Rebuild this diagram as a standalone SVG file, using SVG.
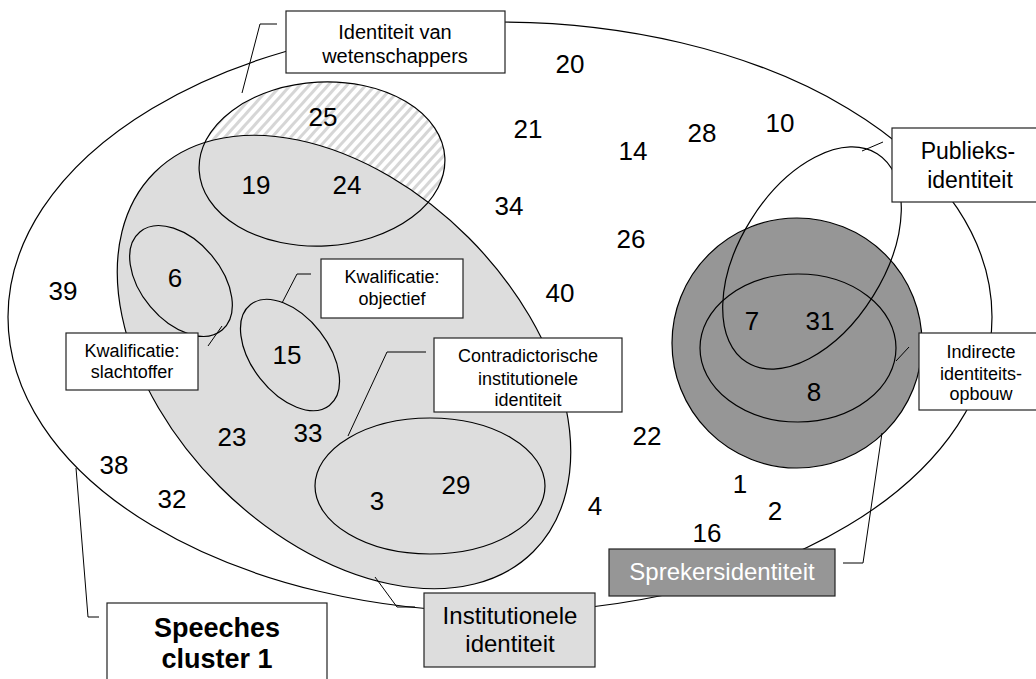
<svg xmlns="http://www.w3.org/2000/svg" width="1036" height="679" viewBox="0 0 1036 679">
<style>
  text { font-family: "Liberation Sans", Arial, sans-serif; fill: #000; text-anchor: middle; }
  .num { font-size: 26px; }
  .ln { fill: none; stroke: #000; stroke-width: 1.2; }
  .box { fill: #fff; stroke: #222; stroke-width: 1.2; }
  .conn { fill: none; stroke: #000; stroke-width: 1; }
  .t18 { font-size: 18px; }
</style>
<defs>
  <pattern id="hatch" width="7" height="7" patternUnits="userSpaceOnUse" patternTransform="rotate(45)">
    <rect width="7" height="7" fill="#fff"/>
    <rect width="3" height="7" fill="#d6d6d6"/>
  </pattern>
</defs>

<g id="speeches-cluster">
  <ellipse cx="500" cy="317" rx="492" ry="295" class="ln" fill="none"/>
</g>

<g id="wetenschappers-set">
  <ellipse cx="322" cy="164" rx="123" ry="82" transform="rotate(-3 322 164)" fill="url(#hatch)" stroke="none"/>
</g>

<g id="institutionele-set">
  <ellipse cx="0" cy="0" rx="268" ry="176" transform="translate(344 362) rotate(45)" fill="#dddddd" stroke="#000" stroke-width="1.2"/>
</g>

<g id="wetenschappers-outline">
  <ellipse cx="322" cy="164" rx="123" ry="82" transform="rotate(-3 322 164)" class="ln" stroke-width="1.6"/>
</g>

<g id="slachtoffer-set">
  <ellipse cx="0" cy="0" rx="64" ry="40" transform="translate(181 281) rotate(50)" class="ln"/>
</g>
<g id="objectief-set">
  <ellipse cx="0" cy="0" rx="64" ry="38" transform="translate(290 355) rotate(52)" class="ln"/>
</g>
<g id="contradictorische-set">
  <ellipse cx="430" cy="486" rx="115" ry="68" class="ln"/>
</g>

<g id="sprekers-set">
  <circle cx="797" cy="343" r="125" fill="#969696" stroke="#000" stroke-width="1.2"/>
</g>
<g id="indirecte-set">
  <ellipse cx="798" cy="348" rx="98" ry="74" class="ln"/>
</g>
<g id="publieks-set">
  <ellipse cx="0" cy="0" rx="123" ry="72" transform="translate(812 258) rotate(-58)" class="ln"/>
</g>

<g id="connectors">
  <polyline class="conn" points="242,93 260,24 277,24"/>
  <line class="conn" x1="862" y1="151" x2="883" y2="142"/>
  <line class="conn" x1="896" y1="361" x2="909" y2="347"/>
  <polyline class="conn" points="882,433 863,563 843,563"/>
  <line class="conn" x1="208" y1="346" x2="222" y2="326"/>
  <polyline class="conn" points="282,303 297,274 311,274"/>
  <polyline class="conn" points="348,436 387,352 426,352"/>
  <polyline class="conn" points="375,577 397,607 415,607"/>
  <polyline class="conn" points="76,468 88,617 99,617"/>
</g>

<g id="numbers">
  <text class="num" x="570" y="73">20</text>
  <text class="num" x="323" y="126">25</text>
  <text class="num" x="528" y="138">21</text>
  <text class="num" x="633" y="160">14</text>
  <text class="num" x="702" y="142">28</text>
  <text class="num" x="780" y="132">10</text>
  <text class="num" x="256" y="194">19</text>
  <text class="num" x="347" y="194">24</text>
  <text class="num" x="509" y="215">34</text>
  <text class="num" x="631" y="248">26</text>
  <text class="num" x="175" y="287">6</text>
  <text class="num" x="63" y="300">39</text>
  <text class="num" x="560" y="302">40</text>
  <text class="num" x="752" y="330">7</text>
  <text class="num" x="820" y="330">31</text>
  <text class="num" x="287" y="364">15</text>
  <text class="num" x="814" y="401">8</text>
  <text class="num" x="647" y="445">22</text>
  <text class="num" x="232" y="446">23</text>
  <text class="num" x="308" y="442">33</text>
  <text class="num" x="114" y="474">38</text>
  <text class="num" x="456" y="494">29</text>
  <text class="num" x="172" y="508">32</text>
  <text class="num" x="377" y="510">3</text>
  <text class="num" x="740" y="493">1</text>
  <text class="num" x="595" y="515">4</text>
  <text class="num" x="775" y="520">2</text>
  <text class="num" x="707" y="542">16</text>
</g>

<g id="label-wetenschappers">
  <rect class="box" x="286" y="11" width="219" height="62"/>
  <text x="395" y="39" font-size="20">Identiteit van</text>
  <text x="395" y="63" font-size="20">wetenschappers</text>
</g>
<g id="label-publieks">
  <rect class="box" x="892" y="128" width="156" height="74"/>
  <text x="968" y="159" font-size="23">Publieks-</text>
  <text x="970" y="188" font-size="23">identiteit</text>
</g>
<g id="label-indirecte">
  <rect class="box" x="919" y="333" width="126" height="77"/>
  <text class="t18" x="981" y="358">Indirecte</text>
  <text class="t18" x="981" y="380">identiteits-</text>
  <text class="t18" x="981" y="400">opbouw</text>
</g>
<g id="label-slachtoffer">
  <rect class="box" x="66" y="333" width="132" height="57"/>
  <text class="t18" x="132" y="357">Kwalificatie:</text>
  <text class="t18" x="132" y="378">slachtoffer</text>
</g>
<g id="label-objectief">
  <rect class="box" x="321" y="259" width="142" height="59"/>
  <text class="t18" x="392" y="283">Kwalificatie:</text>
  <text class="t18" x="392" y="305">objectief</text>
</g>
<g id="label-contradictorische">
  <rect class="box" x="434" y="338" width="188" height="74"/>
  <text class="t18" x="528" y="362">Contradictorische</text>
  <text class="t18" x="528" y="385">institutionele</text>
  <text class="t18" x="528" y="406">identiteit</text>
</g>
<g id="label-institutionele">
  <rect x="424" y="593" width="171" height="74" fill="#dddddd" stroke="#222" stroke-width="1.2"/>
  <text x="510" y="624" font-size="24">Institutionele</text>
  <text x="510" y="652" font-size="24">identiteit</text>
</g>
<g id="label-sprekers">
  <rect x="609" y="549" width="226" height="47" fill="#969696" stroke="#222" stroke-width="1.2"/>
  <text x="722" y="580" font-size="24" style="fill:#fff">Sprekersidentiteit</text>
</g>
<g id="label-speeches">
  <rect class="box" x="107" y="603" width="220" height="90"/>
  <text x="217" y="637" font-size="27" font-weight="bold">Speeches</text>
  <text x="217" y="668" font-size="27" font-weight="bold">cluster 1</text>
</g>
</svg>
